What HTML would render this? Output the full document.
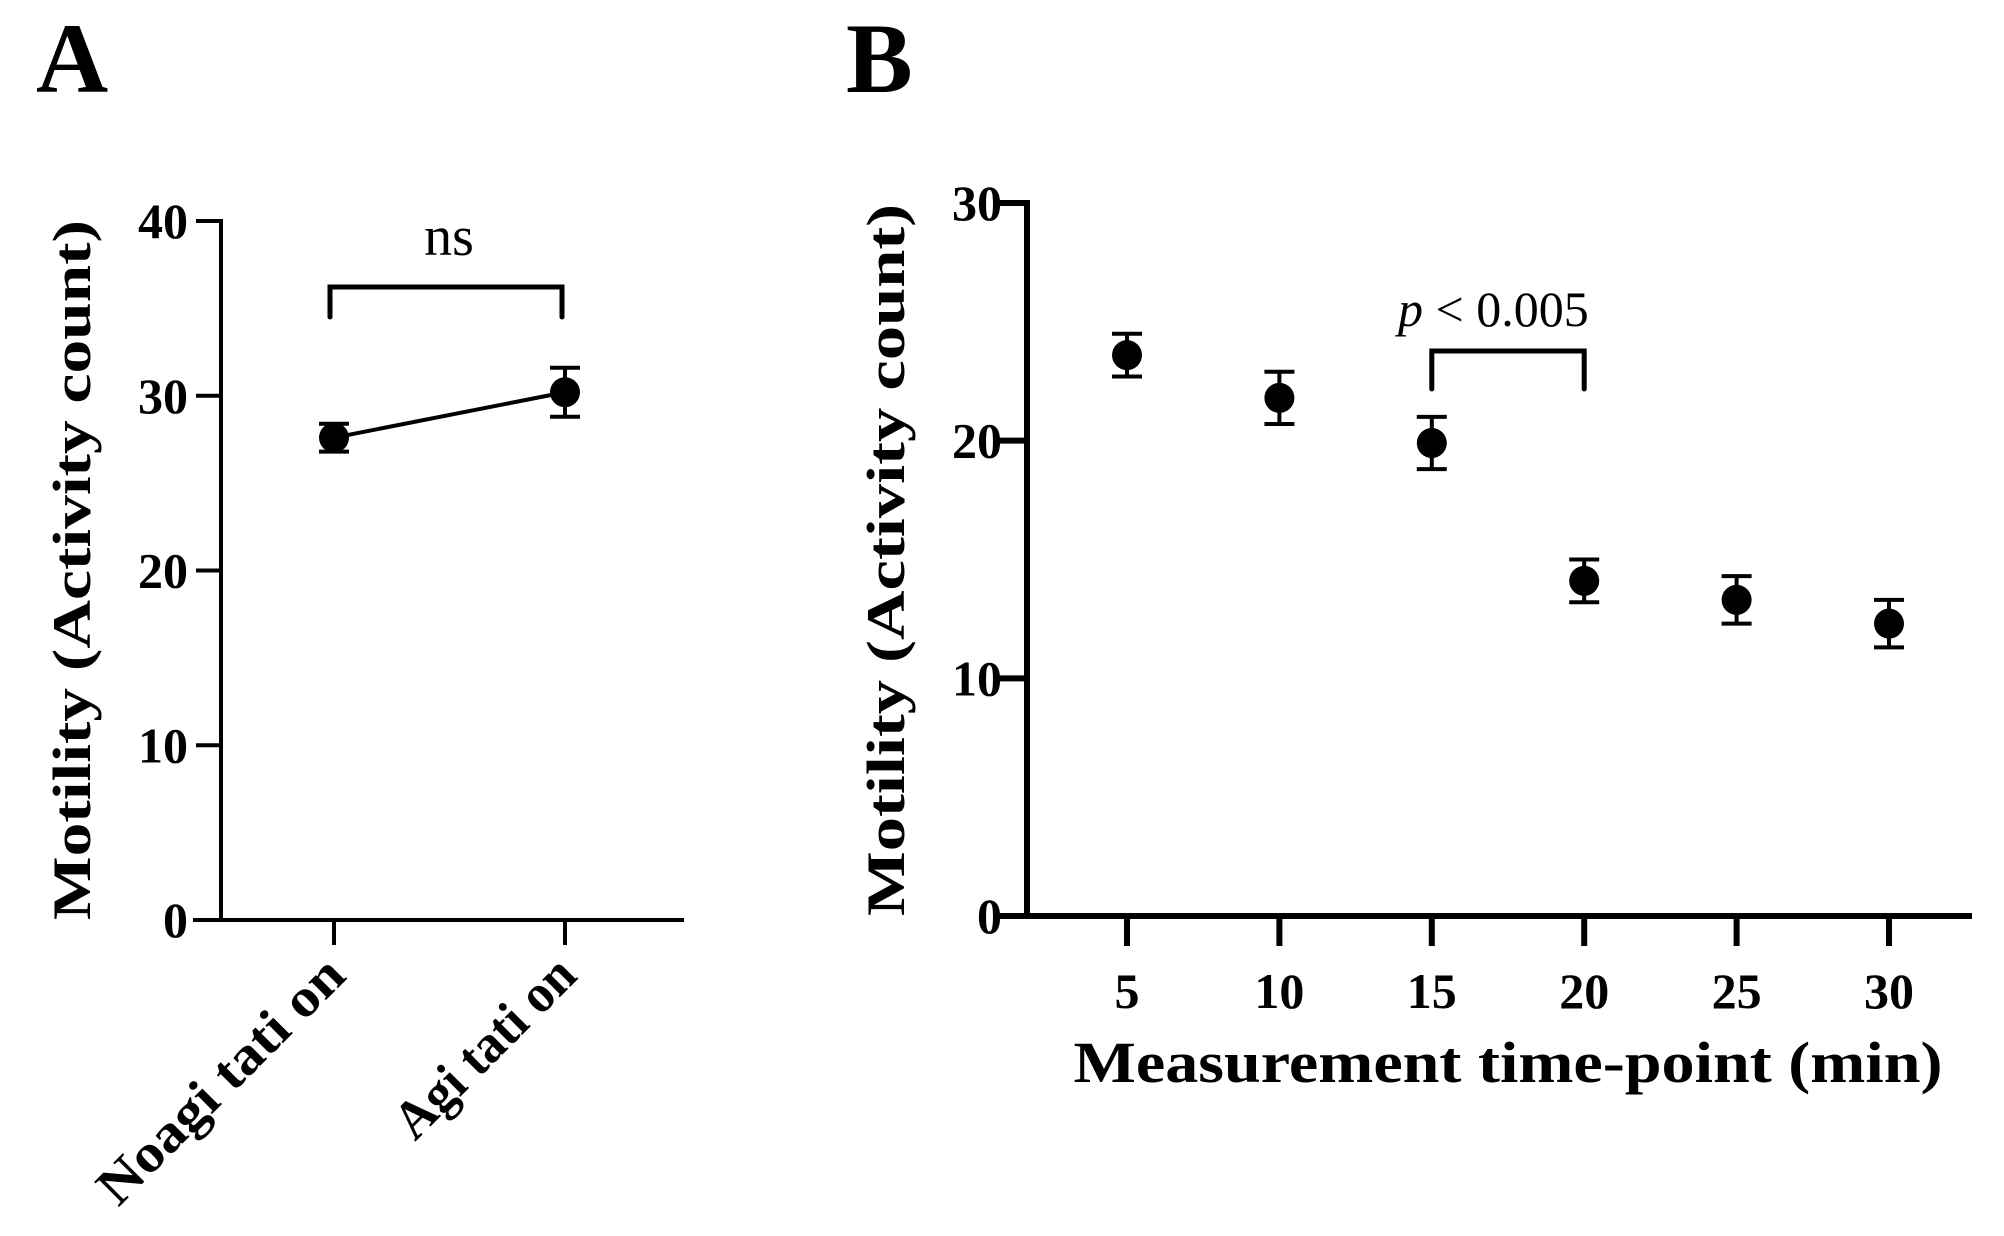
<!DOCTYPE html>
<html><head><meta charset="utf-8"><style>
html,body{margin:0;padding:0;background:#fff}
svg{display:block}
text{font-family:"Liberation Serif",serif;fill:#000}
</style></head><body>
<svg id="c" width="2004" height="1236" viewBox="0 0 2004 1236">
<text x="36" y="92" font-size="100" font-weight="bold">A</text>
<text x="846" y="92" font-size="100" font-weight="bold">B</text>
<g id="pa"></g>
<g id="pb"></g>
</svg>
<script>
const aCategories = ["Noagi  tati on", "Agi tati on"];
const aMeans = [27.6, 30.2];
const aErrors = [0.8, 1.4];
const aTicks = [0, 10, 20, 30, 40];
const bTimes = [5, 10, 15, 20, 25, 30];
const bMeans = [23.6, 21.8, 19.9, 14.1, 13.3, 12.3];
const bErrors = [0.9, 1.1, 1.1, 0.9, 1.0, 1.0];
const bTicks = [0, 10, 20, 30];

const NS = "http://www.w3.org/2000/svg";
function mk(parent, tag, attrs, txt){
  const e = document.createElementNS(NS, tag);
  for (const k in attrs) e.setAttribute(k, attrs[k]);
  if (txt !== undefined) e.textContent = txt;
  parent.appendChild(e); return e;
}

// Panel A
const pa = document.getElementById('pa');
const ay = v => 920 - (v / 40) * (920 - 221);
const ax = i => 334 + i * (565 - 334);
let e;
e = mk(pa, 'line', {x1:221, y1:219, x2:221, y2:922, stroke:'#000', 'stroke-width':4});
 
e = mk(pa, 'line', {x1:193, y1:920, x2:684, y2:920, stroke:'#000', 'stroke-width':4});
 
aTicks.forEach(t => {
  e = mk(pa, 'line', {x1:196, y1:ay(t), x2:221, y2:ay(t), stroke:'#000', 'stroke-width':4});
   
  e = mk(pa, 'text', {x:188, y:ay(t) + 17, 'font-size':50, 'font-weight':'bold', 'text-anchor':'end'}, String(t));
   
});
aCategories.forEach((c, i) => {
  e = mk(pa, 'line', {x1:ax(i), y1:920, x2:ax(i), y2:945, stroke:'#000', 'stroke-width':4});
   
  e = mk(pa, 'text', {x:ax(i) + 14, y:978, 'font-size':54, 'font-weight':'bold', 'text-anchor':'end', textLength:i === 0 ? 325 : 232, lengthAdjust:'spacingAndGlyphs', transform:`rotate(-45 ${ax(i)+14} 978)`}, c);
   
});
e = mk(pa, 'polyline', {points: aMeans.map((m, i) => ax(i) + ',' + ay(m)).join(' '), fill:'none', stroke:'#000', 'stroke-width':4});
 
aMeans.forEach((m, i) => {
  const g = mk(pa, 'g', {});
   
  mk(g, 'line', {x1:ax(i), y1:ay(m - aErrors[i]), x2:ax(i), y2:ay(m + aErrors[i]), stroke:'#000', 'stroke-width':4});
  mk(g, 'line', {x1:ax(i) - 15, y1:ay(m - aErrors[i]), x2:ax(i) + 15, y2:ay(m - aErrors[i]), stroke:'#000', 'stroke-width':4});
  mk(g, 'line', {x1:ax(i) - 15, y1:ay(m + aErrors[i]), x2:ax(i) + 15, y2:ay(m + aErrors[i]), stroke:'#000', 'stroke-width':4});
  mk(g, 'circle', {cx:ax(i), cy:ay(m), r:15, fill:'#000'});
});
e = mk(pa, 'path', {d:'M330 317 V287 H562 V317', fill:'none', stroke:'#000', 'stroke-width':5, 'stroke-linecap':'round'});
 
e = mk(pa, 'text', {x:449, y:255, 'font-size':56, 'text-anchor':'middle'}, 'ns');
 
e = mk(pa, 'text', {x:0, y:0, 'font-size':54, 'font-weight':'bold', 'text-anchor':'middle', textLength:700, lengthAdjust:'spacingAndGlyphs', transform:'translate(90 570) rotate(-90)'}, 'Motility (Activity count)');
 

// Panel B
const pb = document.getElementById('pb');
const by = v => 916 - (v / 30) * (916 - 203);
const bx = t => 1127 + (t - 5) / 25 * (1889 - 1127);
e = mk(pb, 'line', {x1:1027, y1:200, x2:1027, y2:919, stroke:'#000', 'stroke-width':6});
 
e = mk(pb, 'line', {x1:997, y1:916, x2:1972, y2:916, stroke:'#000', 'stroke-width':6});
 
bTicks.forEach(t => {
  e = mk(pb, 'line', {x1:997, y1:by(t), x2:1027, y2:by(t), stroke:'#000', 'stroke-width':6});
   
  e = mk(pb, 'text', {x:1002, y:by(t) + 17, 'font-size':50, 'font-weight':'bold', 'text-anchor':'end'}, String(t));
   
});
bTimes.forEach(t => {
  e = mk(pb, 'line', {x1:bx(t), y1:916, x2:bx(t), y2:946, stroke:'#000', 'stroke-width':6});
   
  e = mk(pb, 'text', {x:bx(t), y:1008, 'font-size':50, 'font-weight':'bold', 'text-anchor':'middle'}, String(t));
   
});
bMeans.forEach((m, i) => {
  const x = bx(bTimes[i]);
  const g = mk(pb, 'g', {});
   
  mk(g, 'line', {x1:x, y1:by(m - bErrors[i]), x2:x, y2:by(m + bErrors[i]), stroke:'#000', 'stroke-width':4});
  mk(g, 'line', {x1:x - 15, y1:by(m - bErrors[i]), x2:x + 15, y2:by(m - bErrors[i]), stroke:'#000', 'stroke-width':4});
  mk(g, 'line', {x1:x - 15, y1:by(m + bErrors[i]), x2:x + 15, y2:by(m + bErrors[i]), stroke:'#000', 'stroke-width':4});
  mk(g, 'circle', {cx:x, cy:by(m), r:15, fill:'#000'});
});
e = mk(pb, 'path', {d:`M${bx(15)} 389 V351 H${bx(20)} V389`, fill:'none', stroke:'#000', 'stroke-width':5, 'stroke-linecap':'round'});
 
e = mk(pb, 'text', {x:1398, y:326, 'font-size':50}, '');
 
mk(e, 'tspan', {'font-style':'italic'}, 'p');
mk(e, 'tspan', {}, ' < 0.005');
e = mk(pb, 'text', {x:1508, y:1082, 'font-size':58, 'font-weight':'bold', 'text-anchor':'middle', textLength:869, lengthAdjust:'spacingAndGlyphs'}, 'Measurement time-point (min)');
 
e = mk(pb, 'text', {x:0, y:0, 'font-size':54, 'font-weight':'bold', 'text-anchor':'middle', textLength:712, lengthAdjust:'spacingAndGlyphs', transform:'translate(904 560) rotate(-90)'}, 'Motility (Activity count)');
 
</script>
</body></html>
